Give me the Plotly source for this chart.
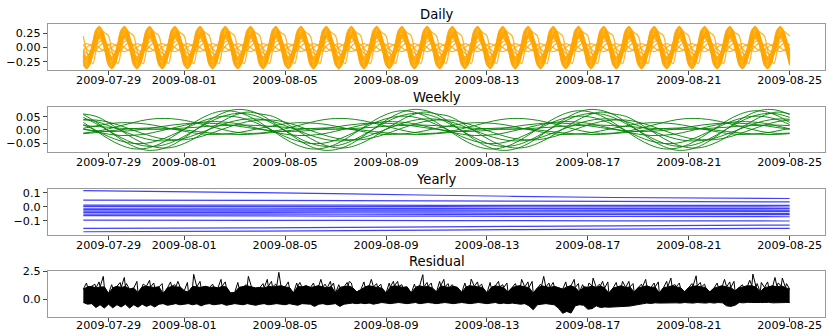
import numpy as np
import pandas as pd
import plotly.graph_objects as go

# ---------------- data ----------------
START = "2009-07-28 00:00"
N_DAYS = 28

TITLES = ["Daily", "Weekly", "Yearly", "Residual"]

X_TICK_DATES = ["2009-07-29", "2009-08-01", "2009-08-05", "2009-08-09",
                "2009-08-13", "2009-08-17", "2009-08-21", "2009-08-25"]
X_TICK_LABELS = ["2009-07-29", "2009-08-01", "2009-08-05", "2009-08-09",
                 "2009-08-13", "2009-08-17", "2009-08-21", "2009-08-25"]

DAILY_YTICKS = [-0.25, 0.0, 0.25]
DAILY_YLABELS = ["\u22120.25", "0.00", "0.25"]
WEEKLY_YTICKS = [-0.05, 0.0, 0.05]
WEEKLY_YLABELS = ["\u22120.05", "0.00", "0.05"]
YEARLY_YTICKS = [-0.1, 0.0, 0.1]
YEARLY_YLABELS = ["\u22120.1", "0.0", "0.1"]
RESID_YTICKS = [0.0, 2.5]
RESID_YLABELS = ["0.0", "2.5"]

# daily component: one day profile per series, sampled every 3 hours (00,03,...,21h)
DAILY_PROFILES = [
    [-0.26, -0.37, -0.26, 0.00, 0.26, 0.37, 0.26, 0.00],
    [-0.175, -0.34, -0.30, -0.09, 0.175, 0.34, 0.30, 0.09],
    [-0.29, -0.32, -0.165, 0.085, 0.29, 0.32, 0.165, -0.085],
    [-0.21, -0.30, -0.21, 0.00, 0.21, 0.30, 0.21, 0.00],
    [-0.07, -0.235, -0.26, -0.135, 0.07, 0.235, 0.26, 0.135],
    [-0.12, -0.23, -0.21, -0.06, 0.12, 0.23, 0.21, 0.06],
    [-0.175, -0.19, -0.10, 0.05, 0.175, 0.19, 0.10, -0.05],
    [-0.11, -0.16, -0.11, 0.00, 0.11, 0.16, 0.11, 0.00],
    [-0.03, -0.10, -0.115, -0.06, 0.03, 0.10, 0.115, 0.06],
    [0.04, -0.02, -0.07, -0.08, -0.04, 0.02, 0.07, 0.08],
    [0.05, 0.07, 0.05, 0.00, -0.05, -0.07, -0.05, 0.00],
    [-0.04, 0.00, 0.04, 0.06, 0.04, 0.00, -0.04, -0.06],
    [0.20, -0.05, -0.20, -0.28, -0.05, 0.20, 0.28, 0.25],
    [-0.31, -0.35, -0.20, 0.05, 0.31, 0.35, 0.20, -0.05],
    [-0.22, -0.36, -0.29, -0.05, 0.22, 0.36, 0.29, 0.05],
    [-0.25, -0.27, -0.14, 0.07, 0.25, 0.27, 0.14, -0.07],
    [-0.14, -0.27, -0.24, -0.07, 0.14, 0.27, 0.24, 0.07],
    [-0.05, -0.18, -0.20, -0.10, 0.05, 0.18, 0.20, 0.10],
    [-0.15, -0.21, -0.15, 0.00, 0.15, 0.21, 0.15, 0.00],
]

# weekly component: one week profile per series, sampled every 12 hours
WEEKLY_PROFILES = [
    [0.058, 0.030, -0.003, -0.036, -0.062, -0.076, -0.074, -0.058, -0.030, 0.003, 0.036, 0.062, 0.076, 0.074],
    [0.028, -0.003, -0.034, -0.058, -0.071, -0.069, -0.054, -0.028, 0.003, 0.034, 0.058, 0.071, 0.069, 0.054],
    [0.060, 0.051, 0.027, -0.003, -0.032, -0.055, -0.067, -0.066, -0.051, -0.027, 0.003, 0.032, 0.055, 0.067],
    [0.047, 0.024, -0.003, -0.029, -0.050, -0.061, -0.060, -0.047, -0.024, 0.003, 0.029, 0.050, 0.061, 0.060],
    [0.020, -0.002, -0.025, -0.042, -0.051, -0.050, -0.039, -0.020, 0.002, 0.025, 0.042, 0.051, 0.050, 0.039],
    [0.040, 0.032, 0.016, -0.002, -0.020, -0.034, -0.041, -0.040, -0.032, -0.016, 0.002, 0.020, 0.034, 0.041],
    [0.037, 0.037, 0.029, 0.015, -0.002, -0.018, -0.031, -0.037, -0.037, -0.029, -0.015, 0.002, 0.018, 0.031],
    [-0.012, -0.006, 0.004, 0.016, 0.028, 0.038, 0.043, 0.042, 0.036, 0.026, 0.014, 0.002, -0.008, -0.013],
    [0.006, 0.015, 0.023, 0.027, 0.026, 0.022, 0.014, 0.004, -0.005, -0.013, -0.017, -0.016, -0.012, -0.004],
    [0.002, -0.003, -0.006, -0.005, -0.002, 0.004, 0.011, 0.018, 0.023, 0.026, 0.025, 0.022, 0.016, 0.009],
    [0.004, -0.007, -0.016, -0.021, -0.020, -0.015, -0.005, 0.006, 0.017, 0.026, 0.031, 0.030, 0.025, 0.015],
    [-0.014, -0.010, -0.004, 0.001, 0.005, 0.007, 0.007, 0.004, 0.000, -0.006, -0.011, -0.015, -0.017, -0.017],
    [0.016, 0.013, 0.010, 0.006, 0.004, 0.002, 0.002, 0.004, 0.007, 0.010, 0.014, 0.016, 0.018, 0.018],
]

# yearly component: values at day 0, 7, 14, 21, 28
YEARLY_SERIES = [
    [0.114, 0.100, 0.082, 0.066, 0.059],
    [0.047, 0.045, 0.042, 0.038, 0.035],
    [0.012, 0.012, 0.011, 0.010, 0.010],
    [0.003, 0.002, 0.001, 0.000, -0.001],
    [-0.010, -0.010, -0.011, -0.012, -0.012],
    [-0.020, -0.021, -0.022, -0.023, -0.024],
    [-0.030, -0.030, -0.031, -0.031, -0.032],
    [-0.040, -0.041, -0.043, -0.045, -0.046],
    [-0.052, -0.052, -0.053, -0.054, -0.055],
    [-0.062, -0.064, -0.066, -0.068, -0.070],
    [-0.094, -0.095, -0.097, -0.099, -0.100],
    [-0.152, -0.148, -0.141, -0.134, -0.129],
    [-0.176, -0.171, -0.164, -0.157, -0.152],
]

# residual band: upper and lower envelope every 4 hours (6 per day) + final point
RESID_UPPER = [
    0.9, 1.1, 1.15, 1.0, 1.1, 1.1,
    0.5, 1.0, 1.15, 1.05, 1.15, 0.9,
    1.0, 0.6, 1.1, 1.15, 1.1, 1.05,
    1.1, 0.5, 1.0, 1.15, 1.1, 1.1,
    0.75, 0.65, 1.15, 1.1, 1.05, 1.15,
    1.05, 1.1, 1.0, 1.15, 1.1, 0.55,
    0.6, 1.05, 1.1, 1.2, 1.1, 1.0,
    1.05, 1.0, 1.15, 1.1, 1.15, 1.2,
    1.1, 1.05, 0.55, 1.15, 1.1, 1.2,
    1.05, 1.1, 1.2, 1.1, 1.0, 1.15,
    0.55, 1.05, 1.1, 1.2, 1.05, 0.65,
    0.85, 1.1, 1.2, 1.1, 1.05, 1.0,
    0.55, 1.1, 1.2, 1.15, 1.05, 1.1,
    0.55, 1.05, 1.2, 1.1, 1.15, 1.0,
    0.65, 1.2, 1.1, 1.05, 1.15, 1.05,
    0.6, 1.1, 1.2, 1.15, 1.1, 1.05,
    0.55, 1.05, 1.2, 1.1, 1.05, 0.65,
    1.05, 1.15, 1.2, 1.1, 1.05, 0.55,
    1.0, 1.2, 1.1, 1.05, 1.15, 1.05,
    0.9, 1.1, 1.2, 1.05, 0.65, 1.1,
    1.05, 1.2, 1.05, 1.2, 1.0, 0.55,
    1.0, 1.1, 1.2, 1.05, 1.1, 0.65,
    1.05, 1.1, 1.2, 1.05, 1.1, 0.55,
    1.05, 1.1, 1.2, 1.1, 1.05, 0.65,
    1.05, 1.15, 1.2, 1.1, 1.05, 0.65,
    1.0, 1.1, 1.2, 1.1, 1.05, 0.75,
    1.05, 1.1, 1.2, 1.2, 1.1, 0.65,
    1.05, 1.1, 1.2, 1.1, 1.2, 1.05,
    0.9,
]
RESID_LOWER = [
    -0.30, -0.45, -0.40, -0.75, -0.50, -0.80,
    -0.45, -0.78, -0.50, -0.70, -0.45, -0.80,
    -0.50, -0.72, -0.45, -0.65, -0.50, -0.70,
    -0.45, -0.40, -0.55, -0.45, -0.40, -0.50,
    -0.45, -0.40, -0.50, -0.42, -0.60, -0.45,
    -0.40, -0.50, -0.45, -0.40, -0.55, -0.45,
    -0.40, -0.45, -0.50, -0.40, -0.45, -0.55,
    -0.45, -0.40, -0.50, -0.45, -0.40, -0.45,
    -0.50, -0.40, -0.45, -0.55, -0.40, -0.45,
    -0.45, -0.65, -0.45, -0.40, -0.50, -0.45,
    -0.40, -0.65, -0.45, -0.40, -0.35, -0.40,
    -0.35, -0.40, -0.35, -0.45, -0.35, -0.30,
    -0.35, -0.40, -0.35, -0.30, -0.35, -0.40,
    -0.35, -0.30, -0.40, -0.35, -0.30, -0.35,
    -0.40, -0.35, -0.30, -0.35, -0.40, -0.35,
    -0.30, -0.35, -0.40, -0.35, -0.30, -0.35,
    -0.40, -0.35, -0.30, -0.40, -0.35, -0.40,
    -0.35, -0.40, -0.45, -0.40, -0.60, -0.95,
    -0.50, -0.45, -0.40, -0.45, -0.50, -0.80,
    -1.27, -1.10, -1.25, -0.60, -0.50, -0.55,
    -0.90, -0.85, -0.60, -0.75, -0.70, -0.72,
    -0.70, -0.65, -0.68, -0.60, -0.62, -0.55,
    -0.50, -0.40, -0.35, -0.38, -0.33, -0.35,
    -0.33, -0.35, -0.30, -0.33, -0.35, -0.30,
    -0.33, -0.35, -0.30, -0.33, -0.35, -0.30,
    -0.35, -0.30, -0.33, -0.60, -0.65, -0.55,
    -0.30, -0.33, -0.28, -0.30, -0.33, -0.30,
    -0.30, -0.28, -0.33, -0.30, -0.28, -0.30,
    -0.30,
]
# residual spikes: hour since start, value
RESID_SPIKE_HOURS = [19, 39, 63, 90, 105, 131, 157, 175, 186, 206, 226, 238, 253, 274,
                     299, 323, 343, 369, 395, 417, 438, 467, 485, 494, 513, 535, 559,
                     583, 610, 634, 637, 658, 665]
RESID_SPIKE_VALUES = [2.05, 1.95, 1.7, 1.6, 2.23, 1.78, 2.05, 1.78, 2.41, 1.5, 1.78, 1.45,
                      1.6, 1.78, 1.6, 2.2, 1.78, 1.8, 1.6, 1.78, 2.05, 1.78, 1.9, 1.6,
                      1.6, 1.78, 1.9, 2.1, 1.78, 1.7, 2.26, 1.95, 1.9]
# smaller residual peaks: hour since start, value
RESID_PEAK_HOURS = [3, 11, 15, 27, 35, 41, 51, 57, 67, 75, 83, 87, 99, 107, 111,
                    123, 130, 135, 147, 155, 159, 171, 179, 183, 195, 203, 207,
                    219, 230, 235, 243, 251, 255, 267, 279, 283, 291, 295, 303,
                    315, 327, 331, 339, 347, 351, 363, 375, 379, 387, 399, 403,
                    411, 423, 427, 435, 443, 447, 459, 471, 475, 481, 491, 499,
                    507, 519, 523, 531, 543, 547, 555, 563, 567, 579, 587, 591,
                    603, 615, 619, 627, 641, 645, 651, 661, 669]
RESID_PEAK_VALUES = [1.45, 1.35, 1.55, 1.3, 1.5, 1.4, 1.6, 1.35, 1.45, 1.4, 1.55, 1.3,
                     1.5, 1.4, 1.6, 1.35, 1.45, 1.55, 1.5, 1.3, 1.45, 1.4, 1.6, 1.35,
                     1.55, 1.45, 1.3, 1.45, 1.35, 1.6, 1.3, 1.5, 1.45, 1.55, 1.4, 1.35,
                     1.45, 1.6, 1.3, 1.35, 1.5, 1.45, 1.6, 1.4, 1.3, 1.45, 1.55, 1.35,
                     1.5, 1.3, 1.45, 1.4, 1.55, 1.6, 1.35, 1.45, 1.5, 1.55, 1.4, 1.3,
                     1.45, 1.35, 1.55, 1.5, 1.6, 1.4, 1.35, 1.45, 1.55, 1.6, 1.3, 1.45,
                     1.4, 1.5, 1.35, 1.45, 1.55, 1.6, 1.3, 1.4, 1.5, 1.55, 1.45, 1.4]

# ---------------- figure ----------------
W, H = 827, 331
LEFT, RIGHT = 48, 825
BOXES = [(24, 70), (107, 152), (189, 235), (271, 317)]  # (top, bottom) in px
FONT = "DejaVu Sans"
TICK_SIZE = 11.2
TITLE_SIZE = 13.2
X_STANDOFF = [-5, -5, -5, -7]

t0 = pd.Timestamp(START)
x_range = [t0 - pd.Timedelta(days=1.4), t0 + pd.Timedelta(days=N_DAYS + 1.4)]

fig = go.Figure()

# Daily
x_daily = pd.date_range(t0, periods=N_DAYS * 8 + 1, freq="3h")
for prof in DAILY_PROFILES:
    y = list(prof) * N_DAYS + [prof[0]]
    fig.add_trace(go.Scatter(x=x_daily, y=y, mode="lines", xaxis="x", yaxis="y",
                             line=dict(color="rgba(255,165,0,0.8)", width=1.3, shape="spline"),
                             showlegend=False, hoverinfo="skip"))

# Weekly
x_week = pd.date_range(t0, periods=N_DAYS * 2 + 1, freq="12h")
for prof in WEEKLY_PROFILES:
    y = list(prof) * (N_DAYS // 7) + [prof[0]]
    fig.add_trace(go.Scatter(x=x_week, y=y, mode="lines", xaxis="x2", yaxis="y2",
                             line=dict(color="rgba(0,128,0,0.9)", width=1, shape="spline"),
                             showlegend=False, hoverinfo="skip"))

# Yearly
x_year = pd.date_range(t0, periods=5, freq="7D")
for ser in YEARLY_SERIES:
    fig.add_trace(go.Scatter(x=x_year, y=ser, mode="lines", xaxis="x3", yaxis="y3",
                             line=dict(color="rgba(0,0,255,0.75)", width=1.2, shape="spline"),
                             showlegend=False, hoverinfo="skip"))

# Residual
x_res = pd.date_range(t0, periods=N_DAYS * 6 + 1, freq="4h")
up = pd.Series(RESID_UPPER, index=x_res)
spikes = pd.Series(RESID_SPIKE_VALUES, index=t0 + pd.to_timedelta(RESID_SPIKE_HOURS, unit="h"))
peaks = pd.Series(RESID_PEAK_VALUES, index=t0 + pd.to_timedelta(RESID_PEAK_HOURS, unit="h"))
up_all = pd.concat([up, spikes, peaks]).sort_index()

fig.add_trace(go.Scatter(x=x_res, y=RESID_LOWER, mode="lines", xaxis="x4", yaxis="y4",
                         line=dict(color="black", width=1),
                         showlegend=False, hoverinfo="skip"))
fig.add_trace(go.Scatter(x=x_res, y=RESID_UPPER, mode="lines", xaxis="x4", yaxis="y4",
                         line=dict(color="black", width=1), fill="tonexty", fillcolor="black",
                         showlegend=False, hoverinfo="skip"))
fig.add_trace(go.Scatter(x=up_all.index, y=up_all.values, mode="lines", xaxis="x4", yaxis="y4",
                         line=dict(color="black", width=1),
                         showlegend=False, hoverinfo="skip"))

yticks = [(DAILY_YTICKS, DAILY_YLABELS, [-0.39, 0.41]),
          (WEEKLY_YTICKS, WEEKLY_YLABELS, [-0.083, 0.086]),
          (YEARLY_YTICKS, YEARLY_YLABELS, [-0.199, 0.126]),
          (RESID_YTICKS, RESID_YLABELS, [-1.6, 2.53])]

axis_common = dict(showline=True, mirror=True, linecolor="#9a9a9a", linewidth=1.3,
                   ticks="outside", ticklen=4, tickwidth=1, tickcolor="#444",
                   showgrid=False, zeroline=False, automargin=False,
                   tickfont=dict(family=FONT, size=TICK_SIZE, color="black"))

layout = dict(width=W, height=H, margin=dict(l=0, r=0, t=0, b=0, autoexpand=False),
              paper_bgcolor="white", plot_bgcolor="white", showlegend=False,
              font=dict(family=FONT, color="black"))
annotations = []
for i, (top, bot) in enumerate(BOXES):
    sfx = "" if i == 0 else str(i + 1)
    dom_y = [1 - bot / H, 1 - top / H]
    layout["xaxis" + sfx] = dict(axis_common, domain=[LEFT / W, RIGHT / W], type="date",
                                 range=x_range, tickmode="array",
                                 tickvals=X_TICK_DATES, ticktext=X_TICK_LABELS,
                                 ticklabelstandoff=X_STANDOFF[i], anchor="y" + sfx)
    tv, tt, rng = yticks[i]
    layout["yaxis" + sfx] = dict(axis_common, domain=dom_y, range=rng, tickmode="array",
                                 tickvals=tv, ticktext=tt, anchor="x" + sfx)
    annotations.append(dict(text=TITLES[i], xref="paper", yref="paper",
                            x=(LEFT + RIGHT) / 2 / W, y=1 - top / H,
                            xanchor="center", yanchor="bottom", yshift=0, showarrow=False,
                            font=dict(family=FONT, size=TITLE_SIZE, color="black")))
layout["annotations"] = annotations
fig.update_layout(**layout)

fig.write_html("out.html", config={"displayModeBar": False},
               post_script="document.body.style.margin='0px';document.body.style.overflow='hidden';")
